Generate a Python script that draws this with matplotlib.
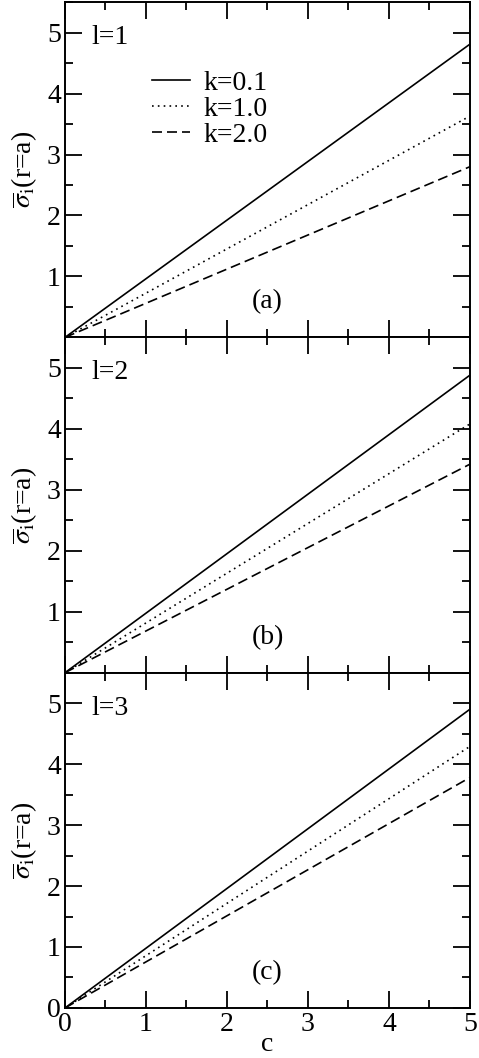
import numpy as np
import matplotlib
matplotlib.use('Agg')
import matplotlib.pyplot as plt
from matplotlib.ticker import MultipleLocator

plt.rcParams['font.family'] = ['Liberation Serif', 'DejaVu Serif']
plt.rcParams['mathtext.fontset'] = 'stix'

# data
c = [0.0, 5.0]
k_labels = ['k=0.1', 'k=1.0', 'k=2.0']
sigma_a = [[0.0, 4.81], [0.0, 3.63], [0.0, 2.80]]
sigma_b = [[0.0, 4.88], [0.0, 4.08], [0.0, 3.42]]
sigma_c = [[0.0, 4.90], [0.0, 4.29], [0.0, 3.78]]
panel_tags = ['l=1', 'l=2', 'l=3']
panel_names = ['(a)', '(b)', '(c)']

styles = ['-', ':', '--']

fig = plt.figure(figsize=(4.79, 10.58), dpi=100)
left, right = 0.1357, 0.981
bottom, top = 0.0473, 0.998
h = (top - bottom) / 3
fs = 20

panels = [sigma_a, sigma_b, sigma_c]
for i, data in enumerate(panels):
    ax = fig.add_axes([left, top - (i + 1) * h, right - left, h])
    for j, vals in enumerate(data):
        if styles[j] == '--':
            ax.plot(c, vals, color='black', lw=1.2, linestyle=(0, (6, 3)), label=k_labels[j])
        elif styles[j] == ':':
            ax.plot(c, vals, color='black', lw=1.2, linestyle=(0, (1, 2.5)), label=k_labels[j])
        else:
            ax.plot(c, vals, color='black', lw=1.2, label=k_labels[j])
    ax.set_xlim(0, 5)
    ax.set_ylim(0, 5.5)
    ax.xaxis.set_major_locator(MultipleLocator(1))
    ax.xaxis.set_minor_locator(MultipleLocator(0.5))
    ax.yaxis.set_major_locator(MultipleLocator(1))
    ax.yaxis.set_minor_locator(MultipleLocator(0.5))
    ax.tick_params(which='both', direction='in', top=True, right=True, width=1.3, labelsize=fs, pad=3)
    ax.tick_params(which='major', length=12)
    ax.tick_params(which='minor', length=6)
    for s in ax.spines.values():
        s.set_linewidth(1.4)
    if i < 2:
        ax.set_yticks([1, 2, 3, 4, 5])
        ax.set_xticklabels([])
    else:
        ax.set_yticks([0, 1, 2, 3, 4, 5])
        ax.set_xlabel('c', fontsize=fs, labelpad=-4)
    ax.set_ylabel(r'$\overline{\sigma}_{\mathrm{i}}$(r=a)', fontsize=fs, labelpad=6)
    ax.text(0.33, 4.92, panel_tags[i], fontsize=fs, va='center', ha='left')
    ax.text(2.5, 0.58, panel_names[i], fontsize=fs, va='center', ha='center')
    if i == 0:
        ax.legend(loc='upper left', bbox_to_anchor=(0.215, 0.797), frameon=False, fontsize=fs,
                  handlelength=1.35, handletextpad=0.5, labelspacing=0.02, borderpad=0,
                  borderaxespad=0)

fig.savefig('out.png', dpi=100)
